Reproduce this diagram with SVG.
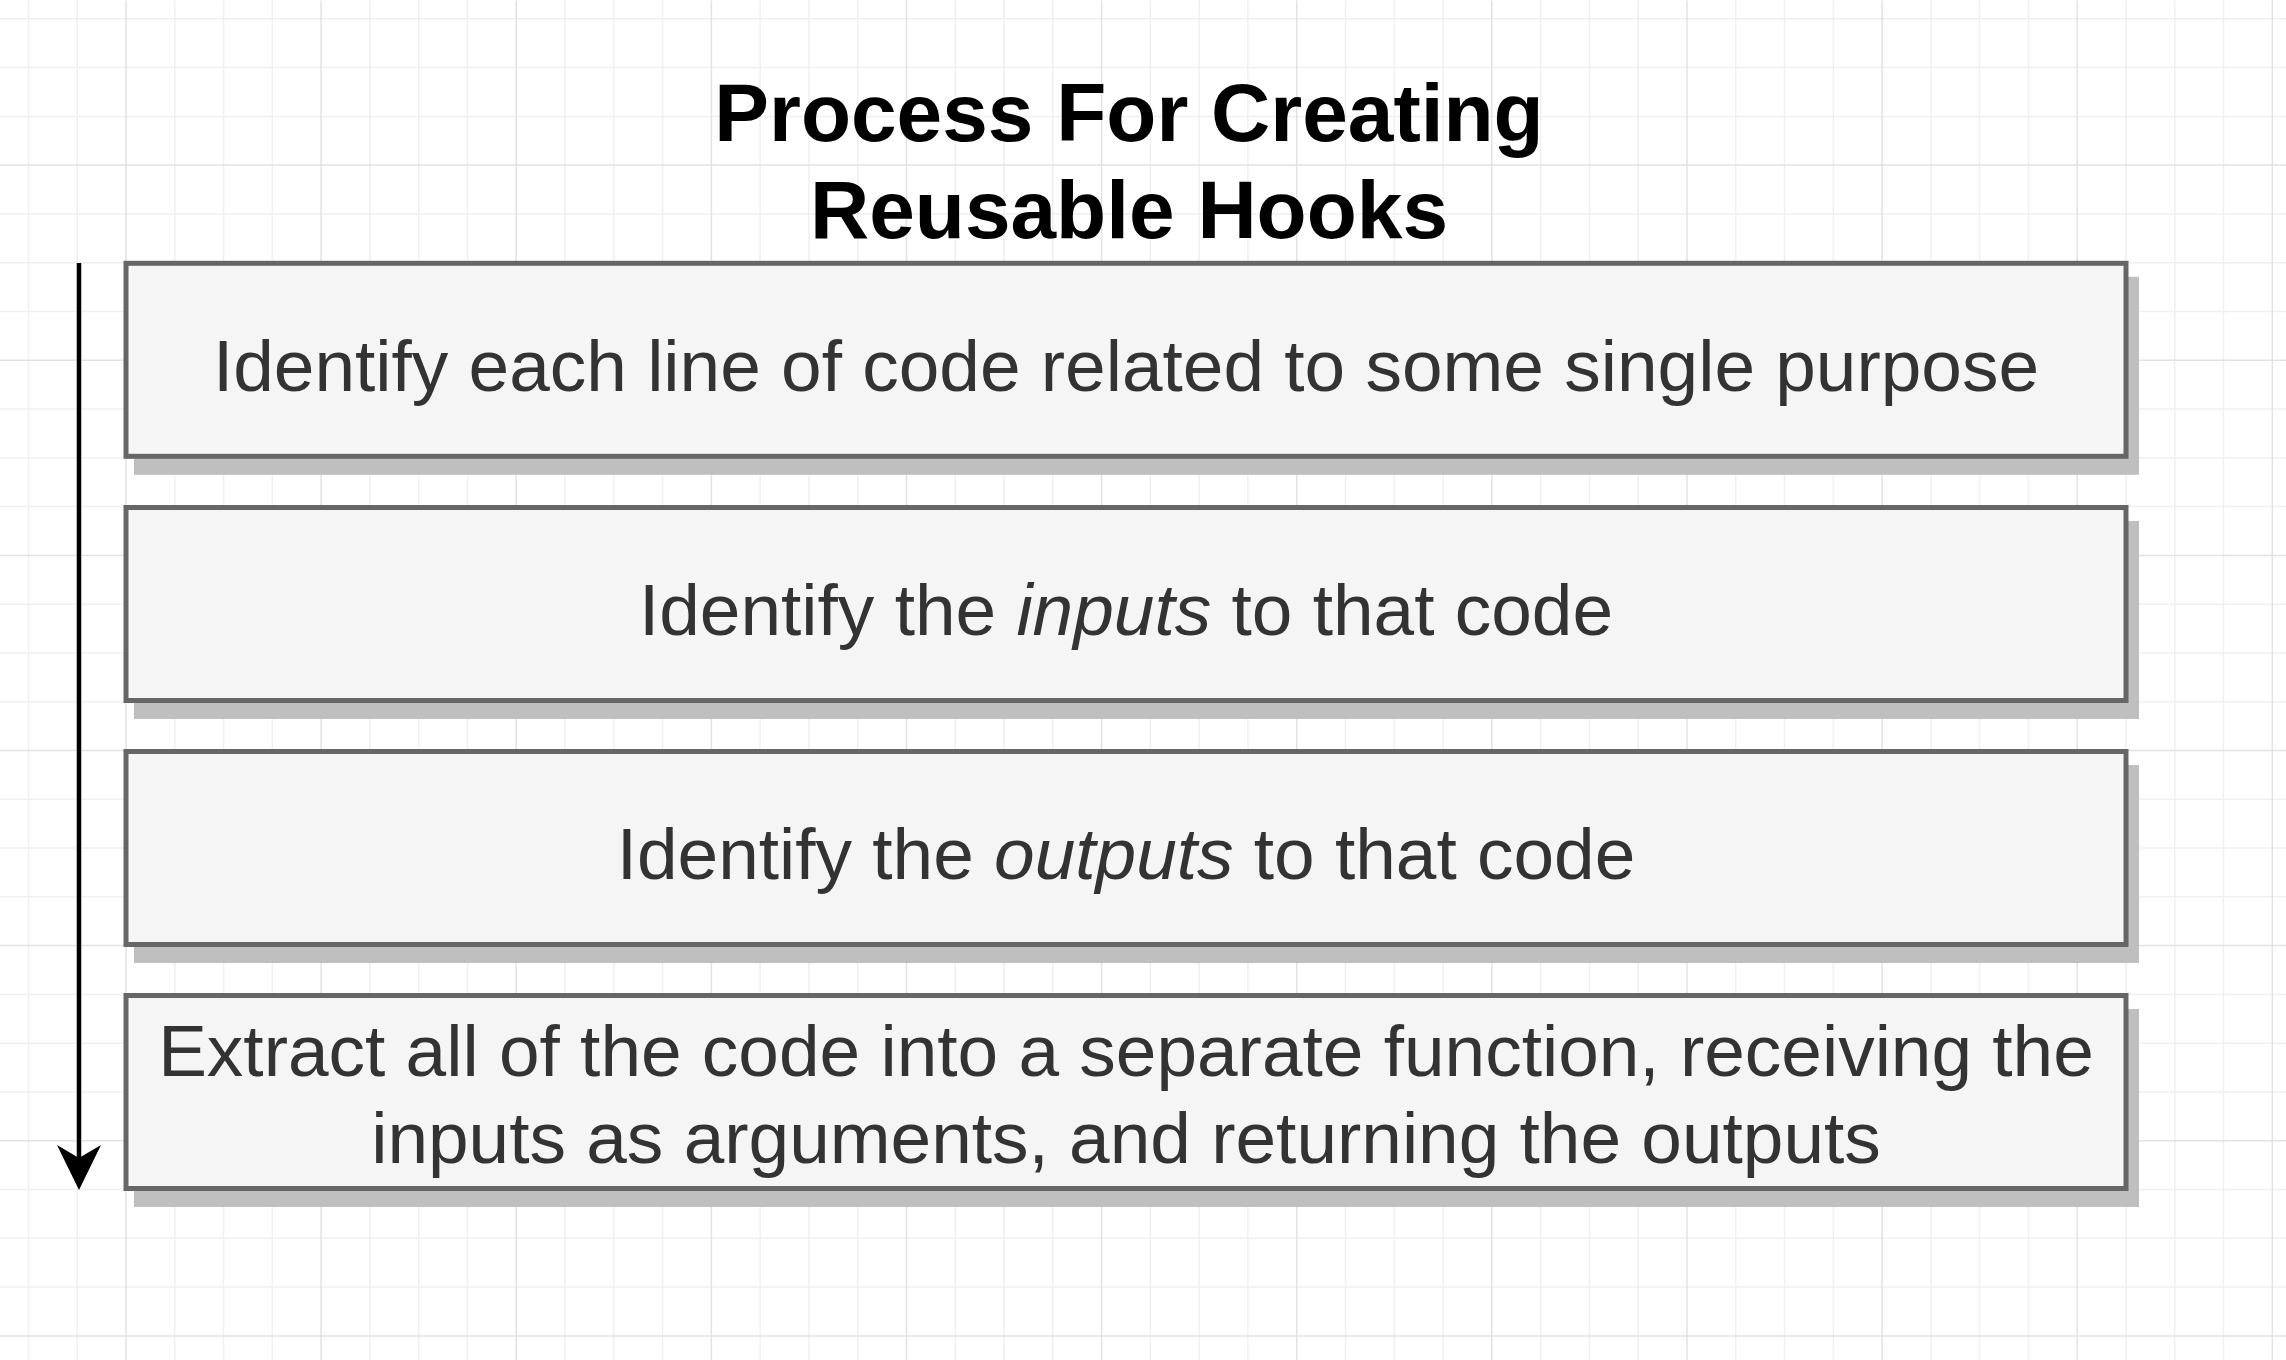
<svg xmlns="http://www.w3.org/2000/svg" width="2286" height="1360" viewBox="0 0 2286 1360">
  <defs>
    <style>
      .minor { stroke: #f0f0f0; stroke-width: 1.5; fill: none; }
      .major { stroke: #e2e2e2; stroke-width: 1.5; fill: none; }
      .box { fill: #f5f5f5; stroke: #666666; stroke-width: 5; }
      .shadow { fill: #bfbfbf; }
      .title { font-family: "Liberation Sans", Arial, Helvetica, sans-serif; font-weight: bold; font-size: 82px; fill: #000000; text-anchor: middle; }
      .label { font-family: "Liberation Sans", Arial, Helvetica, sans-serif; font-size: 73px; fill: #333333; text-anchor: middle; }
      .it { font-style: italic; }
      .conn { stroke: #000000; stroke-width: 4.5; fill: none; }
    </style>
  </defs>
  <rect x="0" y="0" width="2286" height="1360" fill="#ffffff"/>
  <g id="grid" transform="translate(0,0.5)">
    <path class="minor" d="M28.4 0V1360M77.2 0V1360M174.8 0V1360M223.6 0V1360M272.3 0V1360M369.9 0V1360M418.7 0V1360M467.5 0V1360M565 0V1360M613.8 0V1360M662.6 0V1360M760.1 0V1360M808.9 0V1360M857.7 0V1360M955.3 0V1360M1004 0V1360M1052.8 0V1360M1150.4 0V1360M1199.2 0V1360M1247.9 0V1360M1345.5 0V1360M1394.3 0V1360M1443.1 0V1360M1540.6 0V1360M1589.4 0V1360M1638.2 0V1360M1735.7 0V1360M1784.5 0V1360M1833.3 0V1360M1930.9 0V1360M1979.6 0V1360M2028.4 0V1360M2126 0V1360M2174.8 0V1360M2223.5 0V1360M0 18.3H2286M0 67.1H2286M0 115.9H2286M0 213.4H2286M0 262.2H2286M0 311H2286M0 408.5H2286M0 457.3H2286M0 506.1H2286M0 603.7H2286M0 652.4H2286M0 701.2H2286M0 798.8H2286M0 847.6H2286M0 896.3H2286M0 993.9H2286M0 1042.7H2286M0 1091.5H2286M0 1189H2286M0 1237.8H2286M0 1286.6H2286"/>
    <path class="major" d="M126 0V1360M321.1 0V1360M516.2 0V1360M711.4 0V1360M906.5 0V1360M1101.6 0V1360M1296.7 0V1360M1491.8 0V1360M1687 0V1360M1882.1 0V1360M2077.2 0V1360M2272.3 0V1360M0 164.6H2286M0 359.8H2286M0 554.9H2286M0 750H2286M0 945.1H2286M0 1140.2H2286M0 1335.4H2286"/>
  </g>
  <text class="title" x="1129" y="141">Process For Creating</text>
  <text class="title" x="1129" y="238">Reusable Hooks</text>
  <g id="connectors">
    <line class="conn" x1="79" y1="263" x2="79" y2="1158"/>
    <polygon points="79,1190 57,1145 79,1158 101,1145" fill="#000000"/>
  </g>
  <g id="step1">
    <rect class="shadow" x="134" y="276.8" width="2005" height="198"/>
    <rect class="box" x="126" y="263.3" width="2000" height="193"/>
    <text class="label" x="1126" y="391">Identify each line of code related to some single purpose</text>
  </g>
  <g id="step2">
    <rect class="shadow" x="134" y="521" width="2005" height="198"/>
    <rect class="box" x="126" y="507.5" width="2000" height="193"/>
    <text class="label" x="1126" y="635">Identify the <tspan class="it">inputs</tspan> to that code</text>
  </g>
  <g id="step3">
    <rect class="shadow" x="134" y="765" width="2005" height="198"/>
    <rect class="box" x="126" y="751.5" width="2000" height="193"/>
    <text class="label" x="1126" y="879">Identify the <tspan class="it">outputs</tspan> to that code</text>
  </g>
  <g id="step4">
    <rect class="shadow" x="134" y="1009" width="2005" height="198"/>
    <rect class="box" x="126" y="995.5" width="2000" height="193"/>
    <text class="label" x="1126" y="1076">Extract all of the code into a separate function, receiving the</text>
    <text class="label" x="1126" y="1163">inputs as arguments, and returning the outputs</text>
  </g>
</svg>
